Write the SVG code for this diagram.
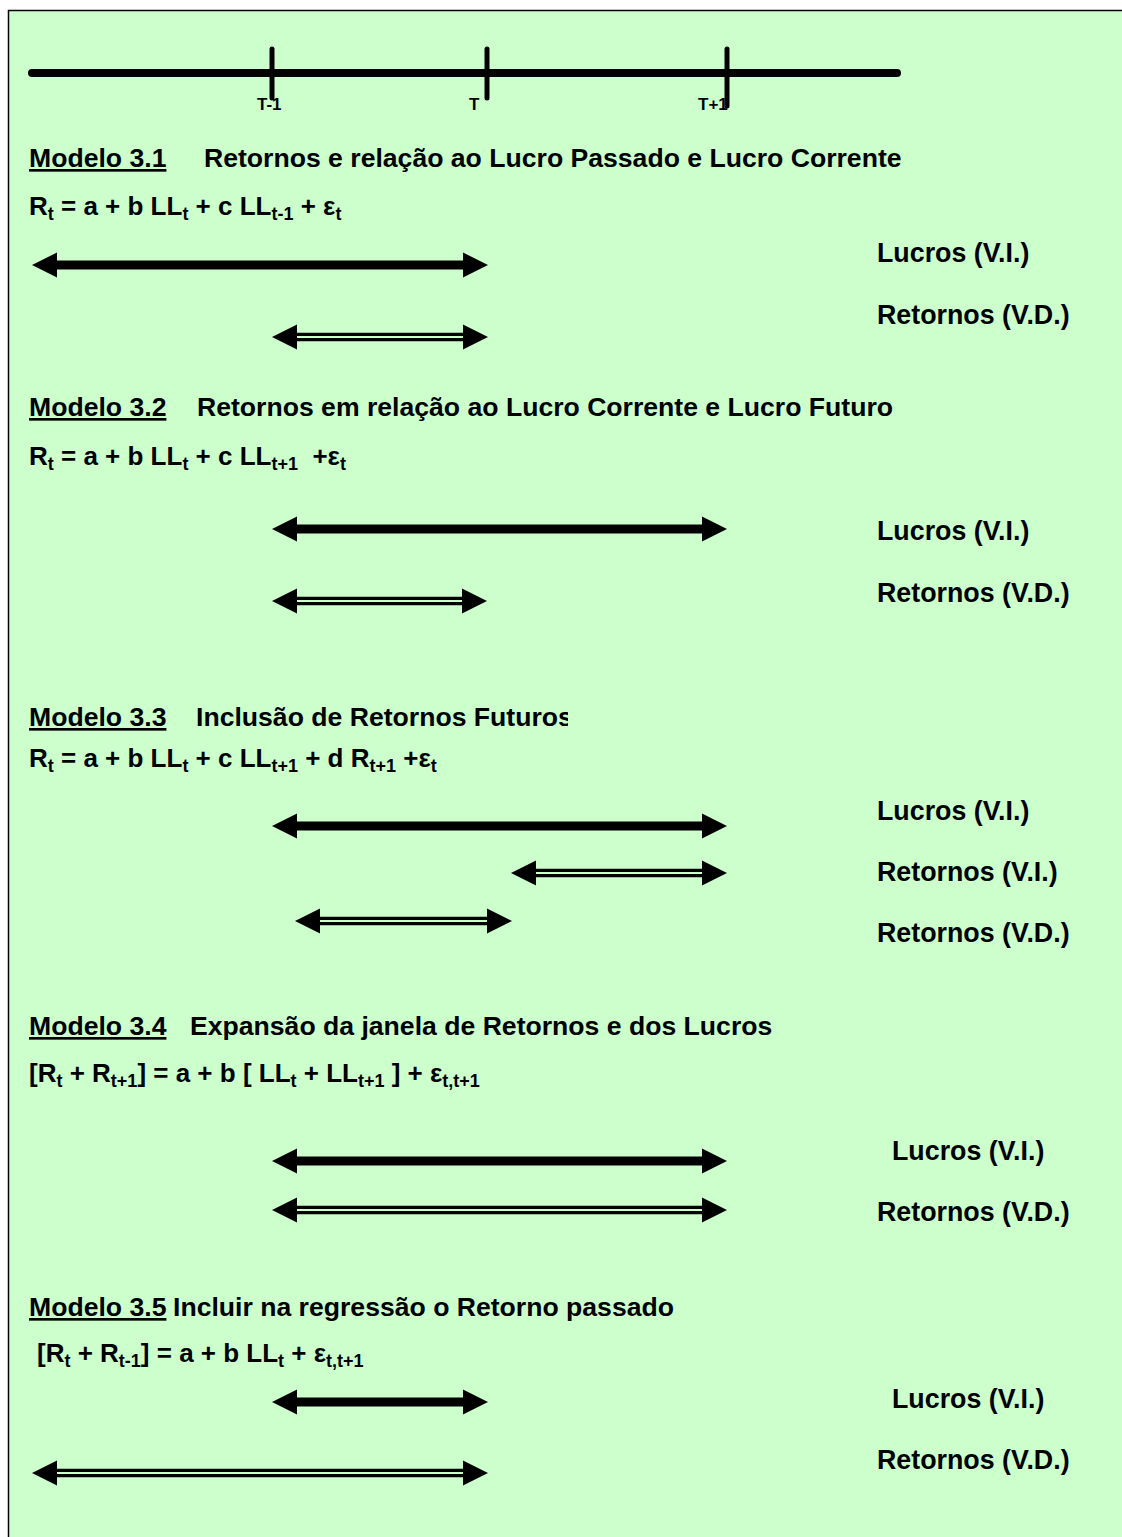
<svg xmlns="http://www.w3.org/2000/svg" xmlns:xlink="http://www.w3.org/1999/xlink" width="1122" height="1537" viewBox="0 0 1122 1537">
  <style>
    text { font-family: "Liberation Sans", Arial, sans-serif; font-weight: bold; fill: #000; }
    .h { font-size: 26.6px; }
    .u { text-decoration: underline; }
    .f { font-size: 26px; white-space: pre; }
    .s { font-size: 18px; }
    .lbl { font-size: 26.8px; }
    .tk { font-size: 17px; }
    .axis { stroke: #000; stroke-linecap: round; fill: none; }
    .thick { stroke: #000; stroke-width: 9; }
    .dbl { stroke: #000; stroke-width: 3.2; }
  </style>
  <defs>
    <path id="hr" d="M0,0 L-25,-12.5 L-25,12.5 Z" fill="#000"/>
    <path id="hl" d="M0,0 L25,-12.5 L25,12.5 Z" fill="#000"/>
    <clipPath id="clip33"><rect x="0" y="690" width="568" height="50"/></clipPath>
  </defs>

  <!-- page background and frame -->
  <rect x="0" y="0" width="1122" height="1537" fill="#fff"/>
  <rect x="8.5" y="10.5" width="1200" height="1600" fill="#CCFFCC" stroke="#000" stroke-width="1.5"/>

  <!-- time axis -->
  <g id="timeline">
    <line class="axis" x1="32" y1="73" x2="897" y2="73" stroke-width="8"/>
    <line class="axis" x1="272" y1="49" x2="272" y2="98" stroke-width="5"/>
    <line class="axis" x1="487" y1="49" x2="487" y2="98" stroke-width="5"/>
    <line class="axis" x1="727" y1="49" x2="727" y2="106" stroke-width="5"/>
    <text class="tk" x="257" y="110">T-1</text>
    <text class="tk" x="469" y="110">T</text>
    <text class="tk" x="698" y="110">T+1</text>
  </g>

  <!-- Modelo 3.1 -->
  <g id="modelo-3-1">
    <text class="h" y="167"><tspan class="u" x="29">Modelo 3.1</tspan><tspan x="204">Retornos e relação ao Lucro Passado e Lucro Corrente</tspan></text>
    <text class="f" x="29" y="215">R<tspan class="s" dy="5">t</tspan><tspan dy="-5"> = a + b LL</tspan><tspan class="s" dy="5">t</tspan><tspan dy="-5"> + c LL</tspan><tspan class="s" dy="5">t-1</tspan><tspan dy="-5"> + ε</tspan><tspan class="s" dy="5">t</tspan></text>
    <text class="lbl" x="877" y="262">Lucros (V.I.)</text>
    <text class="lbl" x="877" y="324">Retornos (V.D.)</text>
  </g>

  <!-- Modelo 3.2 -->
  <g id="modelo-3-2">
    <text class="h" y="416"><tspan class="u" x="29">Modelo 3.2</tspan><tspan x="197">Retornos em relação ao Lucro Corrente e Lucro Futuro</tspan></text>
    <text class="f" x="29" y="465">R<tspan class="s" dy="5">t</tspan><tspan dy="-5"> = a + b LL</tspan><tspan class="s" dy="5">t</tspan><tspan dy="-5"> + c LL</tspan><tspan class="s" dy="5">t+1</tspan><tspan dy="-5">  +ε</tspan><tspan class="s" dy="5">t</tspan></text>
    <text class="lbl" x="877" y="540">Lucros (V.I.)</text>
    <text class="lbl" x="877" y="602">Retornos (V.D.)</text>
  </g>

  <!-- Modelo 3.3 -->
  <g id="modelo-3-3">
    <text class="h" y="726"><tspan class="u" x="29">Modelo 3.3</tspan></text>
    <text class="h" x="196" y="726" clip-path="url(#clip33)">Inclusão de Retornos Futuros</text>
    <text class="f" x="29" y="767">R<tspan class="s" dy="5">t</tspan><tspan dy="-5"> = a + b LL</tspan><tspan class="s" dy="5">t</tspan><tspan dy="-5"> + c LL</tspan><tspan class="s" dy="5">t+1</tspan><tspan dy="-5"> + d R</tspan><tspan class="s" dy="5">t+1</tspan><tspan dy="-5"> +ε</tspan><tspan class="s" dy="5">t</tspan></text>
    <text class="lbl" x="877" y="820">Lucros (V.I.)</text>
    <text class="lbl" x="877" y="881">Retornos (V.I.)</text>
    <text class="lbl" x="877" y="942">Retornos (V.D.)</text>
  </g>

  <!-- Modelo 3.4 -->
  <g id="modelo-3-4">
    <text class="h" y="1035"><tspan class="u" x="29">Modelo 3.4</tspan><tspan x="190">Expansão da janela de Retornos e dos Lucros</tspan></text>
    <text class="f" x="29" y="1082">[R<tspan class="s" dy="5">t</tspan><tspan dy="-5"> + R</tspan><tspan class="s" dy="5">t+1</tspan><tspan dy="-5">] = a + b [ LL</tspan><tspan class="s" dy="5">t</tspan><tspan dy="-5"> + LL</tspan><tspan class="s" dy="5">t+1</tspan><tspan dy="-5"> ] + ε</tspan><tspan class="s" dy="5">t,t+1</tspan></text>
    <text class="lbl" x="892" y="1160">Lucros (V.I.)</text>
    <text class="lbl" x="877" y="1221">Retornos (V.D.)</text>
  </g>

  <!-- Modelo 3.5 -->
  <g id="modelo-3-5">
    <text class="h" y="1316"><tspan class="u" x="29">Modelo 3.5</tspan><tspan x="173">Incluir na regressão o Retorno passado</tspan></text>
    <text class="f" x="37" y="1362">[R<tspan class="s" dy="5">t</tspan><tspan dy="-5"> + R</tspan><tspan class="s" dy="5">t-1</tspan><tspan dy="-5">] = a + b LL</tspan><tspan class="s" dy="5">t</tspan><tspan dy="-5"> + ε</tspan><tspan class="s" dy="5">t,t+1</tspan></text>
    <text class="lbl" x="892" y="1408">Lucros (V.I.)</text>
    <text class="lbl" x="877" y="1469">Retornos (V.D.)</text>
  </g>

  <!-- interval arrows: thick = earnings window, double = returns window -->
  <g id="connectors">
    <!-- 3.1 -->
    <line class="thick" x1="56" y1="265" x2="464" y2="265"/>
    <use xlink:href="#hl" x="32" y="265"/><use xlink:href="#hr" x="488" y="265"/>
    <line class="dbl" x1="296" y1="334.3" x2="464" y2="334.3"/><line class="dbl" x1="296" y1="339.7" x2="464" y2="339.7"/>
    <use xlink:href="#hl" x="272" y="337"/><use xlink:href="#hr" x="488" y="337"/>
    <!-- 3.2 -->
    <line class="thick" x1="296" y1="529" x2="703" y2="529"/>
    <use xlink:href="#hl" x="272" y="529"/><use xlink:href="#hr" x="727" y="529"/>
    <line class="dbl" x1="296" y1="598.3" x2="463" y2="598.3"/><line class="dbl" x1="296" y1="603.7" x2="463" y2="603.7"/>
    <use xlink:href="#hl" x="272" y="601"/><use xlink:href="#hr" x="487" y="601"/>
    <!-- 3.3 -->
    <line class="thick" x1="296" y1="826" x2="703" y2="826"/>
    <use xlink:href="#hl" x="272" y="826"/><use xlink:href="#hr" x="727" y="826"/>
    <line class="dbl" x1="535" y1="870.3" x2="703" y2="870.3"/><line class="dbl" x1="535" y1="875.7" x2="703" y2="875.7"/>
    <use xlink:href="#hl" x="511" y="873"/><use xlink:href="#hr" x="727" y="873"/>
    <line class="dbl" x1="319" y1="918.3" x2="488" y2="918.3"/><line class="dbl" x1="319" y1="923.7" x2="488" y2="923.7"/>
    <use xlink:href="#hl" x="295" y="921"/><use xlink:href="#hr" x="512" y="921"/>
    <!-- 3.4 -->
    <line class="thick" x1="296" y1="1161" x2="703" y2="1161"/>
    <use xlink:href="#hl" x="272" y="1161"/><use xlink:href="#hr" x="727" y="1161"/>
    <line class="dbl" x1="296" y1="1207.3" x2="703" y2="1207.3"/><line class="dbl" x1="296" y1="1212.7" x2="703" y2="1212.7"/>
    <use xlink:href="#hl" x="272" y="1210"/><use xlink:href="#hr" x="727" y="1210"/>
    <!-- 3.5 -->
    <line class="thick" x1="296" y1="1402" x2="464" y2="1402"/>
    <use xlink:href="#hl" x="272" y="1402"/><use xlink:href="#hr" x="488" y="1402"/>
    <line class="dbl" x1="56" y1="1470.3" x2="464" y2="1470.3"/><line class="dbl" x1="56" y1="1475.7" x2="464" y2="1475.7"/>
    <use xlink:href="#hl" x="32" y="1473"/><use xlink:href="#hr" x="488" y="1473"/>
  </g>
</svg>
